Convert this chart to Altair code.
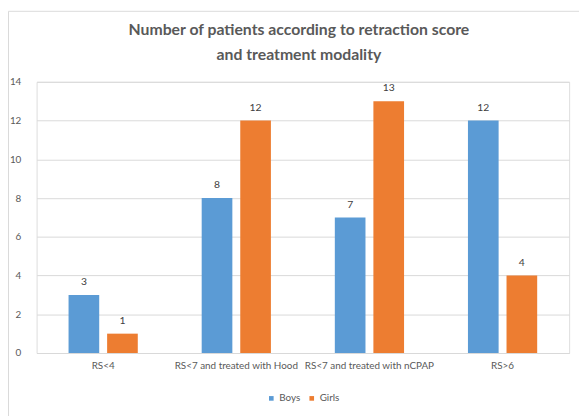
import altair as alt
import pandas as pd

categories = ["RS<4", "RS<7 and treated with Hood", "RS<7 and treated with nCPAP", "RS>6"]
series = ["Boys", "Girls"]
boys = [3, 8, 7, 12]
girls = [1, 12, 13, 4]
colors = ["#5B9BD5", "#ED7D31"]
y_ticks = [0, 2, 4, 6, 8, 10, 12, 14]
title_lines = ["Number of patients according to retraction score", "and treatment modality"]

rows = []
for c, b, g in zip(categories, boys, girls):
    rows.append({"category": c, "gender": "Boys", "count": b})
    rows.append({"category": c, "gender": "Girls", "count": g})
df = pd.DataFrame(rows)

FONT = "Lato"

x = alt.X(
    "category:N",
    sort=categories,
    scale=alt.Scale(paddingInner=0.48, paddingOuter=0.24),
    axis=alt.Axis(
        title=None, labelAngle=0, ticks=False, domainColor="#D9D9D9",
        labelColor="#595959", labelFontSize=10, labelPadding=8, labelFont=FONT,
    ),
)
xo = alt.XOffset("gender:N", sort=series, scale=alt.Scale(paddingInner=0.205))
y = alt.Y(
    "count:Q",
    scale=alt.Scale(domain=[0, 14]),
    axis=alt.Axis(
        title=None, values=y_ticks, ticks=False, domain=False, gridColor="#D9D9D9",
        labelColor="#595959", labelPadding=16, labelFontSize=10, labelFont=FONT,
    ),
)

base = alt.Chart(df).encode(x=x, xOffset=xo, y=y)

bars = base.mark_bar().encode(
    color=alt.Color(
        "gender:N",
        sort=series,
        scale=alt.Scale(domain=series, range=colors),
        legend=alt.Legend(
            title=None, orient="none", legendX=233, legendY=316, direction="horizontal",
            symbolType="square", symbolSize=22, symbolStrokeWidth=0, labelFontSize=10,
            labelColor="#595959", labelFont=FONT, columnPadding=6, padding=0, labelOffset=3,
        ),
    )
)

labels = base.mark_text(dy=-10, baseline="alphabetic", fontSize=10.5, color="#404040", font=FONT).encode(
    text="count:Q"
)

frame_df = pd.DataFrame({"k": [0]})
left_border = alt.Chart(frame_df).mark_rule(color="#D9D9D9").encode(
    x=alt.value(-28.5), y=alt.value(-71.5), y2=alt.value(340)
)
top_border = alt.Chart(frame_df).mark_rule(color="#D9D9D9").encode(
    x=alt.value(-28.5), x2=alt.value(560), y=alt.value(-71.5)
)

chart = alt.layer(bars, labels, left_border, top_border).properties(
    width=540,
    height=275,
    autosize=alt.AutoSizeParams(type="none"),
    padding={"left": 29, "top": 72, "right": 10, "bottom": 61},
    title=alt.Title(
        title_lines, font=FONT, fontSize=16, fontWeight="bold", color="#595959",
        anchor="middle", lineHeight=25, offset=0, dy=53, dx=-4,
    ),
).configure_view(stroke=None).configure(background="white")

chart.save("out.html", embed_options={"renderer": "svg", "actions": False})
